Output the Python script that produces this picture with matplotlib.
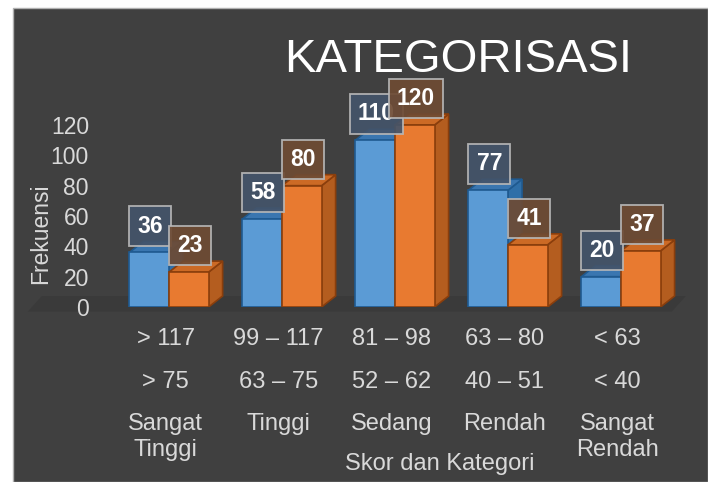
import matplotlib
matplotlib.use('Agg')
import matplotlib.pyplot as plt
from matplotlib.patches import Polygon, Rectangle
from matplotlib import transforms

skor_a = ['> 117', '99 – 117', '81 – 98', '63 – 80', '< 63']
skor_b = ['> 75', '63 – 75', '52 – 62', '40 – 51', '< 40']
kategori = ['Sangat\nTinggi', 'Tinggi', 'Sedang', 'Rendah', 'Sangat\nRendah']
seri_biru = [36, 58, 110, 77, 20]
seri_oranye = [23, 80, 120, 41, 37]
y_ticks = [0, 20, 40, 60, 80, 100, 120]

W, H = 708, 482
fig = plt.figure(figsize=(W / 100, H / 100), dpi=100)
fig.patch.set_facecolor('white')

# latar gelap
fig.patches.append(Rectangle((13 / W, 0), 1 - 13 / W, (H - 8) / H,
                             transform=fig.transFigure, facecolor='#404040',
                             edgecolor='#b0b0b0', linewidth=1.0, zorder=-10))

ax = fig.add_axes([100 / W, (H - 307) / H, 600 / W, 227.5 / H])
ax.set_zorder(5)
ax.set_facecolor('none')
ax.set_xlim(-0.611, 4.699)
ax.set_ylim(0, 150)
for s in ax.spines.values():
    s.set_visible(False)

bw = 0.35
dx, dy = 0.124, 7.25

# lantai
ax.add_patch(Polygon([(-1.25, -3), (4.45, -3), (4.45 + dx, dy), (-1.25 + dx, dy)],
                     closed=True, facecolor='#3a3a3a', edgecolor='none',
                     zorder=1, clip_on=False))

styles = [
    dict(front='#5b9bd5', side='#2f6fa8', top='#3a76b0', edge='#1f5a90',
         box='#44546a'),
    dict(front='#e87a30', side='#b45d1f', top='#cc6a25', edge='#8a3e0c',
         box='#6e4b34'),
]

for i in range(len(seri_biru)):
    for k, vals in enumerate([seri_biru, seri_oranye]):
        st = styles[k]
        v = vals[i]
        x0 = i - bw if k == 0 else i
        x1 = x0 + bw
        z = 2 + k * 3
        ax.add_patch(Polygon([(x1, 0), (x1 + dx, dy), (x1 + dx, v + dy), (x1, v)],
                             closed=True, facecolor=st['side'],
                             edgecolor=st['edge'], linewidth=1.2, zorder=z))
        ax.add_patch(Polygon([(x0, v), (x1, v), (x1 + dx, v + dy), (x0 + dx, v + dy)],
                             closed=True, facecolor=st['top'],
                             edgecolor=st['edge'], linewidth=1.2, zorder=z + 1))
        ax.bar(x0, v, width=bw, align='edge', color=st['front'],
               edgecolor=st['edge'], linewidth=1.2, zorder=z + 2)

# label data
for i in range(len(seri_biru)):
    for k, vals in enumerate([seri_biru, seri_oranye]):
        st = styles[k]
        xc = i - bw / 2 if k == 0 else i + bw / 2
        ax.text(xc + 0.01, vals[i] + 17.4, str(vals[i]), ha='center', va='center',
                fontsize=16.5, fontweight='bold', color='white',
                family='Liberation Sans', zorder=20,
                bbox=dict(boxstyle='square,pad=0.36', facecolor=st['box'],
                          edgecolor='#b8b8b8', linewidth=1.3, alpha=0.92))

ax.set_xticks([])
ax.set_yticks(y_ticks)
ax.set_yticklabels([str(t) for t in y_ticks], fontsize=16.5, color='#d9d9d9',
                   family='Liberation Sans')
ax.tick_params(axis='y', length=0, pad=8)

tr = transforms.blended_transform_factory(ax.transData, fig.transFigure)
for i in range(len(skor_a)):
    ax.text(i - 0.03, 1 - 339 / H, skor_a[i], transform=tr, ha='center', va='center',
            fontsize=17, color='#d9d9d9', family='Liberation Sans')
    ax.text(i - 0.03, 1 - 382 / H, skor_b[i], transform=tr, ha='center', va='center',
            fontsize=17, color='#d9d9d9', family='Liberation Sans')
    ax.text(i - 0.03, 1 - 413 / H, kategori[i], transform=tr, ha='center', va='top',
            fontsize=17, color='#d9d9d9', family='Liberation Sans',
            linespacing=1.22)

fig.text(440 / W, 1 - 464 / H, 'Skor dan Kategori', ha='center', va='center',
         fontsize=17, color='#d9d9d9', family='Liberation Sans')
fig.text(41 / W, 1 - 234 / H, 'Frekuensi', ha='center', va='center', rotation=90,
         fontsize=16.5, color='#d9d9d9', family='Liberation Sans')
fig.text(458 / W, 1 - 60 / H, 'KATEGORISASI', ha='center', va='center',
         fontsize=34, color='white', family='Liberation Sans')

fig.savefig('out.png', dpi=100, facecolor=fig.get_facecolor())
